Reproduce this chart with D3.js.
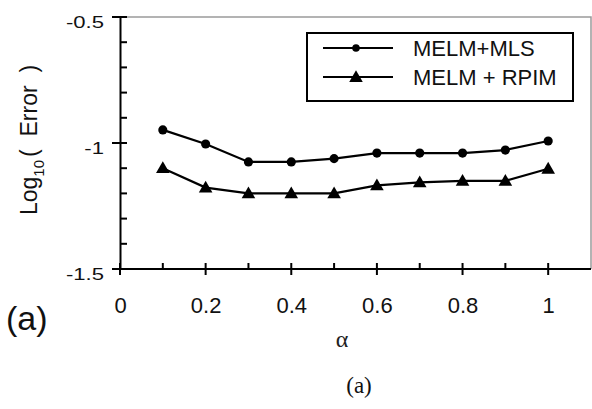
<!DOCTYPE html>
<html lang="en">
<head>
	<meta charset="utf-8">
	<title>Log10 Error vs alpha</title>
	<script src="https://d3js.org/d3.v7.min.js"></script>
	<style type="text/css">
		body { margin: 0; background: white; }
		.axis path,
		.axis line {
		    fill: none;
		    stroke: black;
		    stroke-width: 2px;
		}
		.axis text {
		    font-family: "Liberation Sans", Arial, sans-serif;
		    font-size: 22px;
		    fill: #111;
		}
	</style>
</head>
<body>
<script type="text/javascript">

	// Data
	var alphas = [0.1, 0.2, 0.3, 0.4, 0.5, 0.6, 0.7, 0.8, 0.9, 1.0];
	var mlsError = [-0.948, -1.004, -1.075, -1.075, -1.062, -1.04, -1.04, -1.04, -1.028, -0.992];
	var rpimError = [-1.10, -1.177, -1.20, -1.20, -1.20, -1.168, -1.156, -1.15, -1.15, -1.102];
	var seriesNames = ["MELM+MLS", "MELM + RPIM"];
	var xTicks = [0, 0.2, 0.4, 0.6, 0.8, 1];
	var xMinorTicks = [0.1, 0.3, 0.5, 0.7, 0.9];
	var yTicks = [-0.5, -1, -1.5];
	var yMinorTicks = [-0.6, -0.7, -0.8, -0.9, -1.1, -1.2, -1.3, -1.4];

	// Canvas
	var width = 592, height = 409;
	var margin = {top: 17, right: 1, bottom: 140, left: 120};

	var svg = d3.select("body")
				.append("svg")
				.attr("width", width)
				.attr("height", height);

	var xScale = d3.scaleLinear()
				   .domain([0, 1.1])
				   .range([margin.left, width - margin.right]);

	var yScale = d3.scaleLinear()
				   .domain([-1.5, -0.5])
				   .range([height - margin.bottom, margin.top]);

	var bottomY = yScale(-1.5);
	var leftX = xScale(0);

	// Grey frame on top and right
	svg.append("path")
	   .attr("d", "M" + leftX + "," + yScale(-0.5) + "H" + xScale(1.1) + "V" + bottomY)
	   .attr("fill", "none")
	   .attr("stroke", "#9a9a9a")
	   .attr("stroke-width", 1.5);

	// X axis line and labels
	svg.append("g")
		.attr("class", "axis")
		.attr("transform", "translate(0," + bottomY + ")")
		.call(d3.axisBottom(xScale).tickValues(xTicks).tickSize(0).tickSizeOuter(0)
			.tickPadding(28).tickFormat(function(d) { return String(d); }))
		.call(function(g) { g.select(".domain").attr("d", "M" + (leftX - 8) + ",0H" + xScale(1.1)); });

	// Y axis line
	svg.append("g")
		.attr("class", "axis")
		.attr("transform", "translate(" + leftX + ",0)")
		.call(d3.axisLeft(yScale).tickValues(yTicks).tickSize(0).tickSizeOuter(0).tickFormat(""));

	// Tick marks: minor ones inside, major ones across the axis line
	var tickG = svg.append("g");

	tickG.selectAll(".xminor")
		.data(xMinorTicks)
		.enter()
		.append("line")
		.attr("x1", function(d) { return xScale(d); })
		.attr("x2", function(d) { return xScale(d); })
		.attr("y1", bottomY - 6)
		.attr("y2", bottomY)
		.attr("stroke", "black")
		.attr("stroke-width", 2);

	tickG.selectAll(".xmajor")
		.data(xTicks)
		.enter()
		.append("line")
		.attr("x1", function(d) { return xScale(d); })
		.attr("x2", function(d) { return xScale(d); })
		.attr("y1", bottomY - 6)
		.attr("y2", bottomY + 6)
		.attr("stroke", "black")
		.attr("stroke-width", 2);

	tickG.selectAll(".yminor")
		.data(yMinorTicks)
		.enter()
		.append("line")
		.attr("x1", leftX)
		.attr("x2", leftX + 7)
		.attr("y1", function(d) { return yScale(d); })
		.attr("y2", function(d) { return yScale(d); })
		.attr("stroke", "black")
		.attr("stroke-width", 2);

	tickG.selectAll(".ymajor")
		.data(yTicks)
		.enter()
		.append("line")
		.attr("x1", leftX - 8)
		.attr("x2", leftX + 7)
		.attr("y1", function(d) { return yScale(d); })
		.attr("y2", function(d) { return yScale(d); })
		.attr("stroke", "black")
		.attr("stroke-width", 2);

	// Y tick labels, a little wide in the original
	svg.selectAll(".ylab")
		.data(yTicks)
		.enter()
		.append("text")
		.attr("class", "ylab")
		.attr("transform", function(d) { return "translate(104," + (yScale(d) + 11) + ") scale(1.3,1)"; })
		.attr("text-anchor", "end")
		.style("font-family", "'Liberation Sans', Arial, sans-serif")
		.style("font-size", "17px")
		.attr("fill", "#111")
		.text(function(d) { return String(d); });

	// Lines and markers
	var lineGen = d3.line()
				 .x(function(d, i) { return xScale(alphas[i]); })
				 .y(function(d) { return yScale(d); });

	[mlsError, rpimError].forEach(function(series) {
		svg.append("path")
			.datum(series)
			.attr("d", lineGen)
			.attr("fill", "none")
			.attr("stroke", "black")
			.attr("stroke-width", 2.2);
	});

	var circleSym = d3.symbol().type(d3.symbolCircle).size(66);
	var triSym = d3.symbol().type(d3.symbolTriangle).size(80);

	svg.selectAll(".mls")
		.data(mlsError)
		.enter()
		.append("path")
		.attr("class", "mls")
		.attr("d", circleSym)
		.attr("transform", function(d, i) { return "translate(" + xScale(alphas[i]) + "," + yScale(d) + ")"; })
		.attr("fill", "black");

	svg.selectAll(".rpim")
		.data(rpimError)
		.enter()
		.append("path")
		.attr("class", "rpim")
		.attr("d", triSym)
		.attr("transform", function(d, i) { return "translate(" + xScale(alphas[i]) + "," + (yScale(d) + 1) + ")"; })
		.attr("fill", "black");

	// Legend
	var legend = svg.append("g");
	legend.append("rect")
		.attr("x", 307).attr("y", 33)
		.attr("width", 266).attr("height", 68)
		.attr("fill", "white")
		.attr("stroke", "black")
		.attr("stroke-width", 2);

	var legendRows = [48, 77];
	legendRows.forEach(function(ly, i) {
		legend.append("line")
			.attr("x1", 323).attr("x2", 393)
			.attr("y1", ly).attr("y2", ly)
			.attr("stroke", "black")
			.attr("stroke-width", 2.2);
		legend.append("path")
			.attr("d", i === 0 ? d3.symbol().type(d3.symbolCircle).size(45)() : d3.symbol().type(d3.symbolTriangle).size(80)())
			.attr("transform", "translate(356," + (ly + (i === 0 ? 0 : 1)) + ")")
			.attr("fill", "black");
		legend.append("text")
			.attr("x", 413)
			.attr("y", ly + 8)
			.style("font-family", "'Liberation Sans', Arial, sans-serif")
			.style("font-size", "22px")
			.attr("fill", "#111")
			.text(seriesNames[i]);
	});

	// Y axis title: Log10( Error )
	var yTitle = svg.append("text")
		.attr("transform", "translate(37,215) rotate(-90)")
		.style("font-family", "'Liberation Sans', Arial, sans-serif")
		.style("font-size", "23px")
		.attr("fill", "#111");
	yTitle.append("tspan").text("Log");
	yTitle.append("tspan").attr("dy", 7).style("font-size", "15px").text("10");
	yTitle.append("tspan").attr("dy", -7).attr("dx", 3).style("white-space", "pre").text("(  Error  )");

	// X axis title
	svg.append("text")
		.attr("x", 342)
		.attr("y", 347)
		.attr("text-anchor", "middle")
		.style("font-family", "'Liberation Serif', 'Times New Roman', serif")
		.style("font-size", "24px")
		.attr("fill", "#222")
		.text("\u03b1");

	// Panel labels
	svg.append("text")
		.attr("x", 6)
		.attr("y", 330)
		.style("font-family", "'Liberation Sans', Arial, sans-serif")
		.style("font-size", "34px")
		.attr("fill", "#111")
		.text("(a)");

	svg.append("text")
		.attr("x", 359)
		.attr("y", 393)
		.attr("text-anchor", "middle")
		.style("font-family", "'Liberation Serif', 'Times New Roman', serif")
		.style("font-size", "23px")
		.attr("fill", "#111")
		.text("(a)");

</script>
</body>
</html>
